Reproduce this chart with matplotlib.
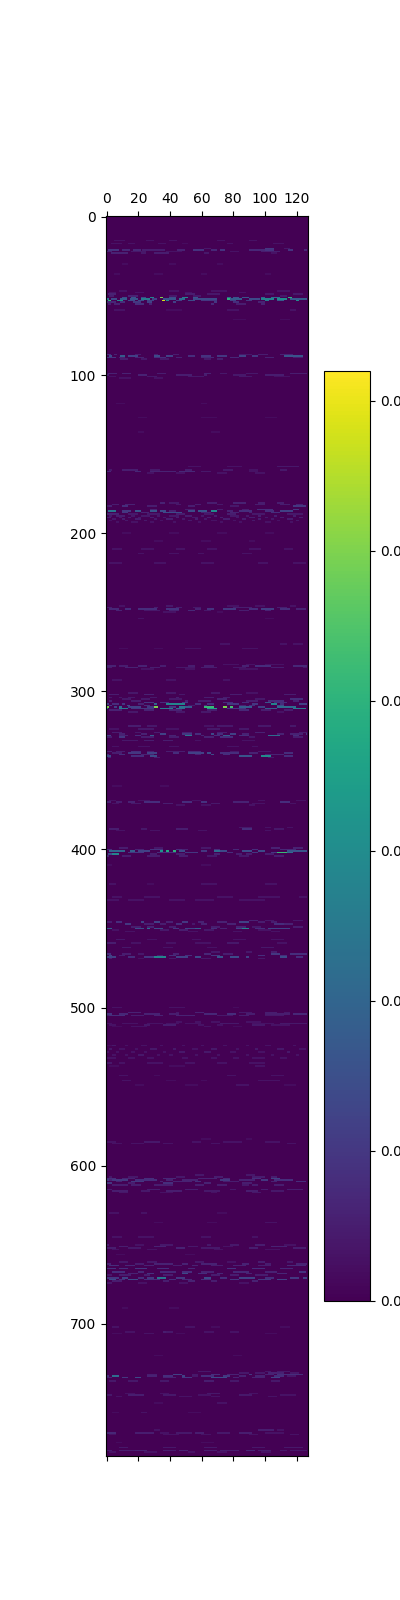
import numpy as np
import matplotlib
matplotlib.use("Agg")
import matplotlib.pyplot as plt

N_ROWS = 784
N_COLS = 128
VALUE_UNIT = 0.001
VMAX = 62
CBAR_TICKS = [0.0, 0.01, 0.02, 0.03, 0.04, 0.05, 0.06]

# Each entry: row -> runs of (first column, last column, value in VALUE_UNIT), read by eye.
BAND_TOP = {
    15: [(5,12,3),(25,30,3),(40,45,3),(70,75,3),(90,95,3)],
    17: [(3,10,3),(14,18,3),(33,38,3),(48,52,2),(76,80,3),(105,112,3)],
    20: [(100,106,10),(62,66,4),(112,116,4)],
    21: [(1,8,9),(10,15,7),(17,22,7),(23,37,5),(45,50,6),(55,62,9),(66,70,7),(72,75,9),(90,100,7),(100,106,9),(115,118,9),(125,127,7)],
    22: [(0,4,6),(16,25,4),(38,48,3),(78,84,3),(98,110,5)],
    23: [(3,14,6),(22,25,4),(30,40,5),(62,65,4),(104,108,3)],
    30: [(10,14,2),(40,44,2),(70,74,2)],
    36: [(5,9,2),(30,36,2),(60,64,2),(100,104,2)],
    47: [(8,13,3),(40,46,3),(66,76,3),(108,116,3)],
    48: [(2,6,3),(18,24,3),(50,54,3),(84,88,3)],
    49: [(1,6,6),(50,56,5),(64,72,4),(100,106,4),(118,124,4)],
    50: [(2,5,5),(14,20,6),(40,45,4),(55,60,4),(110,114,4)],
    51: [(10,13,14),(16,19,16),(22,25,14),(28,30,28),(34,36,50),(40,44,14),(48,50,24),(50,52,30),(55,58,16),(76,79,20),(80,84,16),(86,90,16),(98,100,20),(104,110,22),(115,117,40)],
    52: [(0,2,24),(3,7,14),(9,13,18),(15,20,16),(22,28,26),(29,32,12),(36,44,16),(46,50,22),(55,70,14),(76,78,40),(78,86,18),(90,97,14),(98,106,28),(108,114,30),(116,127,18)],
    53: [(1,3,40),(7,11,30),(14,18,14),(20,24,14),(26,30,12),(35,37,58),(38,40,30),(44,48,12),(52,56,14),(60,70,10),(78,82,12),(88,92,10),(100,103,26),(108,112,18),(120,122,30)],
    54: [(0,6,7),(9,12,8),(17,22,10),(26,29,12),(42,44,12),(68,70,10),(80,84,8),(96,100,6)],
    55: [(1,3,5),(5,9,6),(18,24,8),(27,29,6),(66,68,7),(82,88,5),(98,100,6)],
    59: [(5,12,3),(38,48,2),(76,84,3),(116,120,3)],
    65: [(80,88,2),(110,116,2)],
    87: [(0,3,8),(5,7,6),(18,22,5),(30,33,5),(42,46,5),(84,92,4),(96,102,5),(110,118,6)],
    88: [(2,4,14),(9,12,18),(14,20,12),(30,34,14),(38,42,12),(52,56,8),(60,66,9),(70,76,10),(84,88,12),(92,96,10),(112,124,16)],
    89: [(0,6,10),(8,12,6),(18,24,6),(30,38,8),(44,48,6),(60,68,7),(78,84,7),(100,106,6),(118,124,5)],
    90: [(9,14,5),(22,26,4),(34,40,4),(62,66,4),(70,74,5)],
    99: [(1,7,6),(10,16,6),(32,38,5),(62,66,6),(72,76,4),(88,96,4),(116,127,5)],
    100: [(0,2,5),(20,26,6),(44,54,5),(62,64,5),(80,88,4),(100,112,5)],
    101: [(2,6,3),(26,32,4),(52,62,4),(84,92,4),(106,116,3)],
    102: [(8,16,3),(30,36,3)],
    118: [(6,12,2),(60,64,2)],
    127: [(20,26,2),(60,70,2),(100,108,2)],
    136: [(66,72,2),(20,24,2)],
    158: [(52,60,3),(76,86,3),(108,122,4)],
    160: [(2,4,4),(10,20,5),(28,34,4),(50,54,5),(74,80,4),(90,96,3),(110,114,4)],
    161: [(0,3,7),(18,22,7),(28,44,6),(46,56,7),(60,66,4),(90,96,3)],
    162: [(26,30,3),(44,50,3),(70,76,3),(94,100,3)],
}
BAND_MID_A = {
    181: [(34,37,6),(40,46,4),(64,70,5),(80,88,6),(96,100,5),(108,112,5)],
    182: [(4,8,5),(12,18,6),(44,47,4),(56,60,5),(70,74,4),(94,100,5),(110,116,5),(120,124,6)],
    183: [(0,2,4),(2,4,6),(10,14,8),(26,32,5),(52,56,5),(78,84,4),(118,126,10)],
    185: [(28,32,6),(50,56,5),(70,74,5),(86,90,5),(95,105,8),(118,122,10)],
    186: [(1,6,24),(10,16,10),(18,22,16),(28,32,16),(34,38,14),(40,44,6),(52,56,14),(58,64,16),(66,70,30),(76,80,6),(84,92,8),(100,106,8),(110,118,12)],
    187: [(10,14,10),(22,27,6),(36,48,14),(60,66,6),(78,84,6),(90,92,6),(104,110,8)],
    188: [(0,8,6),(14,20,4),(26,34,4),(44,50,5),(62,68,4),(76,82,5),(92,100,4),(114,124,4)],
    189: [(2,4,4),(6,12,5),(16,18,4),(22,28,4),(32,34,4),(40,46,4),(50,54,5),(60,62,4),(68,70,5),(78,84,4),(88,90,4),(96,98,5),(106,108,5),(118,120,5)],
    190: [(0,3,5),(8,10,4),(14,16,5),(20,22,4),(28,30,5),(36,38,4),(44,46,5),(54,58,4),(64,66,5),(72,74,5),(82,84,4),(90,94,5),(100,102,4),(110,112,5),(122,124,5)],
    191: [(4,6,4),(10,12,5),(18,22,5),(30,32,4),(38,42,5),(48,50,4),(56,58,5),(62,64,4),(74,78,5),(86,88,5),(96,98,5),(104,106,4),(114,118,5)],
    192: [(2,4,3),(12,14,4),(24,26,4),(34,36,3),(52,54,4),(66,70,3),(80,82,3),(92,94,4),(108,110,3),(120,122,4)],
    193: [(6,8,3),(16,20,3),(28,30,3),(42,44,3),(58,60,3),(72,74,3),(84,86,3),(100,104,3),(116,118,3)],
    200: [(10,16,2),(40,46,2),(70,76,2),(100,106,2)],
    205: [(30,36,2),(60,66,2),(90,94,2)],
    210: [(4,10,3),(22,30,3),(44,50,3),(64,70,3),(90,98,3),(112,118,3)],
    213: [(20,24,3),(40,46,3),(58,62,3),(86,92,3)],
    219: [(2,10,3),(30,38,3),(60,68,3),(96,102,3),(118,126,3)],
    246: [(8,12,3),(38,42,4),(76,84,3),(94,100,3),(116,120,3)],
    247: [(0,4,5),(30,33,5),(44,48,5),(55,60,4),(80,92,5),(108,114,5)],
    248: [(2,8,7),(12,16,8),(20,32,8),(38,46,9),(56,60,6),(64,68,9),(74,82,10),(90,96,8),(98,106,11),(110,116,8),(120,126,6)],
    249: [(6,10,6),(24,34,4),(40,46,6),(52,56,7),(62,66,4),(84,90,5),(100,104,6)],
    250: [(36,44,3),(70,74,2)],
    254: [(20,24,3),(100,106,2)],
    270: [(72,78,3),(110,114,3),(118,124,3)],
    273: [(8,14,2),(30,36,2),(50,60,3),(86,96,3)],
    283: [(74,84,3),(88,94,3),(100,112,3)],
    284: [(0,6,6),(8,14,5),(20,26,6),(34,38,5),(52,56,5),(62,68,5),(86,90,6),(94,104,8),(118,127,7)],
    285: [(0,4,5),(12,20,6),(28,34,5),(44,56,4),(60,70,5),(80,88,4),(104,112,5),(124,127,4)],
    286: [(22,30,3),(50,56,3),(84,96,3)],
    293: [(4,10,3),(38,44,3),(74,78,3)],
}
BAND_MID_B = {
    301: [(14,20,4),(38,44,4),(66,72,4),(88,96,3)],
    302: [(2,8,5),(24,30,6),(46,50,4),(78,86,5),(112,120,5)],
    304: [(2,4,4),(8,10,4),(14,18,4),(28,32,4),(44,46,5),(62,68,5),(74,78,5)],
    305: [(10,16,4),(22,28,4),(40,48,4),(70,76,6),(94,100,4),(116,124,8)],
    306: [(2,4,6),(16,22,5),(50,52,6),(58,66,5),(88,96,5),(102,112,8),(118,122,6)],
    307: [(24,30,10),(34,40,8),(48,52,10),(74,80,8),(86,90,8),(100,104,16),(106,114,8)],
    308: [(0,2,12),(4,8,8),(10,12,10),(20,24,6),(30,32,20),(38,50,28),(56,60,8),(64,68,8),(76,84,10),(92,96,10),(104,108,28),(110,112,8),(122,127,12)],
    309: [(2,4,10),(13,15,14),(24,28,8),(52,56,4),(62,64,8),(84,88,6),(90,94,8),(108,112,14)],
    310: [(0,2,50),(5,7,12),(8,10,22),(14,22,12),(26,30,10),(30,33,50),(40,44,10),(46,50,24),(50,54,18),(62,68,42),(74,76,50),(78,80,44),(84,92,18),(96,100,12),(108,120,22)],
    311: [(0,1,28),(8,14,26),(16,30,10),(34,42,26),(44,50,22),(64,70,36),(76,88,10),(100,108,18),(118,126,26)],
    312: [(2,10,6),(24,30,6),(40,48,6),(64,70,5),(84,90,7),(98,104,5),(112,118,5)],
    313: [(14,20,4),(44,50,4),(60,66,4),(108,112,3)],
    322: [(14,22,5),(26,32,4),(62,68,3),(70,80,4),(96,104,4),(116,120,4)],
    324: [(2,8,3),(20,30,4),(38,46,3),(64,72,4),(84,90,4)],
    326: [(4,10,5),(18,22,4),(30,34,5),(48,54,5),(70,76,5),(94,100,6),(122,127,5)],
    327: [(8,12,6),(22,26,6),(34,38,12),(48,54,10),(56,60,8),(66,68,14),(70,74,8),(78,82,12),(86,90,6),(108,112,6),(116,124,6),(126,127,10)],
    328: [(0,3,12),(8,14,6),(18,22,8),(28,30,18),(40,44,6),(50,54,24),(60,62,6),(68,72,8),(74,78,18),(84,90,8),(102,106,22),(106,110,22),(118,122,8)],
    329: [(0,4,5),(8,12,10),(22,30,5),(40,46,5),(62,68,6),(72,80,8),(90,94,4),(118,124,5)],
    331: [(10,20,4),(24,30,5),(36,42,5),(56,60,3),(86,94,3)],
    335: [(4,8,3),(20,28,3),(40,46,3),(76,84,3),(92,96,3)],
    338: [(0,4,6),(6,12,5),(16,22,8),(26,30,5),(38,50,5),(52,60,7),(78,84,4),(96,104,4)],
    339: [(4,10,5),(14,22,10),(26,32,12),(42,46,8),(52,62,12),(64,66,14),(72,84,8),(90,96,6),(112,118,8)],
    340: [(0,2,8),(8,12,8),(22,30,6),(56,60,6),(66,68,14),(74,78,8),(100,112,6)],
    341: [(0,3,14),(16,24,8),(28,32,14),(84,92,16),(98,104,30),(112,118,8)],
    342: [(1,3,6),(30,34,5),(102,106,4)],
    360: [(4,10,2),(34,40,2)],
    372: [(44,50,3),(60,66,3),(90,94,3)],
    369: [(2,6,3),(20,28,3),(54,60,3),(96,100,3),(120,126,3)],
    370: [(0,3,6),(6,10,5),(14,18,6),(24,34,8),(48,54,8),(60,64,9),(80,90,6),(110,116,8)],
    371: [(4,8,3),(16,22,4),(36,42,5),(66,72,4),(92,100,3),(116,120,3)],
    386: [(84,92,4),(100,104,3),(114,118,3)],
    387: [(2,8,5),(22,26,4),(44,52,5),(86,92,8),(106,112,4)],
    388: [(6,12,3),(28,34,3),(58,64,3),(100,104,3)],
    399: [(8,14,5),(30,36,4),(60,66,4),(104,110,6),(118,124,6)],
    400: [(0,4,8),(18,24,6),(28,36,9),(44,50,8),(48,52,6),(68,72,8),(80,84,7),(92,96,8),(110,120,7)],
    401: [(2,12,20),(15,18,18),(20,28,12),(34,36,32),(38,40,38),(42,44,40),(46,50,14),(60,64,10),(68,72,22),(72,76,14),(86,92,14),(96,100,14),(114,127,16)],
    402: [(14,24,10),(32,44,8),(50,58,10),(76,80,8),(92,96,10),(104,108,10),(108,114,42),(114,118,22)],
    403: [(1,4,14),(4,8,28),(28,32,5),(44,50,5),(68,72,6),(82,86,5),(88,92,5),(100,106,5)],
    404: [(0,2,6),(10,16,5),(26,34,5),(46,52,5),(64,70,4),(84,90,4),(106,112,5)],
}
BAND_LOW_A = {
    410: [(0,4,2),(60,66,2)],
    422: [(2,6,3),(26,30,2),(60,70,3),(100,108,3)],
    430: [(4,10,3),(24,34,3),(70,80,3),(96,110,3),(122,127,3)],
    432: [(0,8,3),(14,24,3),(40,50,3),(56,68,3),(84,100,3)],
    445: [(90,96,6),(100,106,4),(118,124,4)],
    446: [(0,4,5),(6,10,8),(22,24,12),(30,34,12),(38,42,6),(48,52,10),(58,62,6),(70,76,6),(84,90,12),(96,100,5),(104,108,5)],
    447: [(12,16,10),(24,30,5),(34,38,5),(44,48,8),(54,56,4),(60,64,6),(76,82,6),(106,112,8),(112,118,6)],
    449: [(16,22,5),(26,30,6),(40,44,5),(66,72,5),(82,88,6),(92,98,4),(118,124,5)],
    450: [(0,4,18),(18,24,14),(26,28,22),(30,36,14),(42,46,10),(50,56,12),(56,60,18),(66,70,8),(72,76,6),(82,86,12),(86,90,28),(94,100,8),(102,116,12)],
    451: [(4,8,3),(34,40,4),(46,52,5),(62,68,4),(96,104,3)],
    452: [(12,18,3),(52,58,3),(80,86,3),(104,110,3)],
    457: [(6,12,4),(26,32,3),(54,60,3),(80,88,3),(104,112,3)],
    459: [(0,6,5),(16,22,3),(38,44,3),(56,66,3),(76,84,4),(108,114,3)],
    462: [(10,16,4),(36,42,3),(64,70,3),(98,106,4)],
    465: [(66,72,4),(88,92,4),(104,108,5)],
    466: [(0,3,8),(10,16,5),(20,24,4),(42,46,6),(62,66,7),(74,80,5),(104,110,10),(116,124,8),(124,127,8)],
    467: [(2,4,12),(8,12,5),(32,36,5),(40,44,8),(50,54,8),(66,72,10),(96,100,8),(110,114,8)],
    468: [(0,6,12),(14,18,8),(24,30,10),(30,38,28),(44,52,12),(56,60,14),(70,74,16),(78,84,14),(88,90,12),(110,114,14),(120,124,8)],
    469: [(2,4,5),(20,24,3),(40,44,4),(60,66,4),(96,100,4)],
    500: [(4,10,3),(40,50,3),(80,84,2)],
    503: [(14,22,6),(44,46,4),(56,62,6),(84,92,4),(100,108,5),(112,116,4)],
    504: [(0,4,9),(8,14,7),(24,34,6),(40,46,5),(62,70,7),(76,82,8),(88,94,5),(100,116,5),(118,127,7)],
    505: [(0,2,5),(2,12,8),(16,24,5),(30,36,6),(44,56,6),(70,80,4),(84,90,5),(100,112,4)],
    509: [(44,48,3),(56,60,3),(66,72,3),(88,98,3)],
    510: [(0,4,3),(10,20,3),(26,36,3),(38,46,3),(50,60,3),(72,84,4),(92,106,3),(110,127,4)],
    511: [(2,6,3),(24,28,4),(36,44,5),(58,62,3),(70,74,3),(92,100,4),(104,116,3)],
    512: [(4,10,2),(16,26,3),(62,66,3),(80,86,2)],
    524: [(0,4,2),(4,6,4),(12,14,3),(22,26,3),(34,36,3),(48,50,3),(60,62,3),(74,76,3),(88,90,3),(100,104,3),(118,120,3)],
    526: [(2,4,4),(8,12,3),(18,20,3),(28,32,4),(42,44,4),(54,58,3),(66,70,4),(82,84,3),(94,96,4),(108,112,4),(122,126,3)],
    528: [(0,2,3),(6,8,3),(16,18,3),(24,26,3),(36,38,3),(46,50,4),(62,66,4),(78,82,3),(96,100,3),(114,116,4)],
    530: [(4,6,3),(12,14,3),(20,24,4),(32,34,3),(40,42,3),(56,58,3),(70,72,3),(88,90,3),(104,106,3),(120,122,3)],
    532: [(0,6,3),(14,18,3),(26,30,3),(48,52,3),(66,70,3),(80,84,3),(92,100,3),(110,114,3)],
    535: [(0,4,4),(8,12,3),(26,36,3),(50,56,3),(70,76,3),(90,100,3)],
    537: [(2,8,2),(40,50,2),(94,100,3)],
    543: [(8,14,3),(30,34,2),(76,82,3),(104,112,3)],
    546: [(10,16,3),(38,44,2),(60,64,2),(96,110,3)],
    549: [(18,24,2),(50,58,2),(82,90,3),(112,120,2)],
}
BAND_LOW_B = {
    583: [(60,66,2),(88,92,2)],
    585: [(0,6,3),(24,34,4),(54,60,3),(74,86,3),(100,110,3)],
    586: [(4,10,3),(16,24,3),(36,42,3),(66,72,3),(114,120,3)],
    606: [(56,62,4),(88,94,4)],
    607: [(2,4,4),(14,20,4),(44,50,4),(68,74,5),(92,100,5),(104,108,5)],
    608: [(0,6,8),(10,18,6),(24,30,8),(36,44,7),(58,70,6),(74,78,7),(92,98,8),(104,110,12)],
    609: [(0,2,10),(2,4,6),(4,14,10),(18,32,8),(38,42,6),(48,58,6),(72,78,10),(84,94,6),(98,102,10),(106,118,8)],
    610: [(6,10,6),(16,24,10),(34,36,6),(42,54,6),(56,60,8),(74,84,5),(104,108,6),(120,126,8)],
    611: [(0,4,10),(14,18,5),(36,42,8),(62,66,6),(86,92,5)],
    612: [(4,14,5),(16,22,5),(30,42,5),(56,62,5),(70,76,5),(86,90,4),(92,96,5),(106,112,5)],
    615: [(0,4,5),(26,34,5),(50,58,5),(78,82,4),(98,102,5),(114,124,5)],
    616: [(4,14,5),(22,28,4),(38,48,5),(62,72,4),(88,96,5),(104,112,4)],
    617: [(8,14,4),(34,42,3),(66,70,3),(92,98,4)],
    630: [(2,8,3),(22,26,3),(70,76,2)],
    636: [(30,36,2),(64,70,2),(100,108,3)],
    645: [(4,10,3),(20,30,3),(60,66,3),(92,96,3)],
    650: [(0,2,5),(18,24,3),(34,42,4),(64,66,4),(78,84,4),(94,100,5),(112,120,3)],
    651: [(8,14,5),(30,38,6),(52,58,4),(74,80,3),(104,114,6)],
    652: [(0,6,5),(14,22,4),(44,50,6),(60,72,4),(90,96,5),(118,126,5)],
    653: [(4,8,3),(26,32,3),(68,74,3),(100,110,3)],
    656: [(6,12,2),(50,56,2)],
    661: [(8,14,4),(26,32,4),(56,62,4),(76,82,3),(96,100,5),(114,118,4)],
    662: [(0,3,6),(18,24,5),(30,42,6),(48,52,6),(60,70,6),(86,90,6),(100,104,5),(120,127,6)],
    663: [(2,8,8),(12,18,7),(24,30,6),(42,48,5),(54,58,6),(66,74,5),(80,88,6),(96,104,5),(114,126,7)],
    665: [(0,6,9),(8,14,8),(18,26,10),(32,40,8),(52,56,7),(76,82,9),(92,100,8),(110,118,7)],
    667: [(4,12,8),(20,24,7),(34,44,7),(48,54,8),(60,68,6),(80,90,7),(100,108,6),(122,126,9)],
    668: [(14,20,6),(26,30,9),(48,52,14),(58,64,8),(70,74,7),(88,92,6),(108,114,7)],
    669: [(0,4,4),(8,16,5),(24,28,5),(36,42,5),(66,72,5),(78,84,5),(94,102,5)],
    671: [(0,8,10),(10,14,12),(20,24,8),(26,30,10),(32,38,24),(44,50,10),(62,66,14),(72,76,8),(84,94,12),(100,106,8),(116,122,10),(124,127,12)],
    672: [(2,6,14),(8,12,8),(14,20,14),(24,34,8),(40,44,8),(48,54,7),(60,66,8),(78,84,10),(96,104,10),(108,114,12)],
    673: [(4,10,5),(36,40,5),(52,56,6),(66,70,5),(92,96,6)],
    674: [(0,4,4),(20,26,3),(46,52,3),(84,90,3)],
    690: [(40,46,2),(10,14,2)],
    702: [(4,8,3),(50,56,3),(66,72,2),(110,116,2)],
    705: [(12,18,3),(36,40,5),(38,42,4),(62,68,3),(78,84,3)],
    706: [(4,10,2),(24,30,3),(44,50,2),(100,108,2)],
    720: [(30,36,2),(80,86,2)],
    730: [(58,66,4),(100,104,4),(108,116,4)],
    731: [(84,90,4),(94,100,4),(102,112,6),(116,122,4)],
    732: [(26,32,5),(42,48,12),(54,58,4),(66,72,8),(76,84,6),(90,92,10),(100,106,6),(108,124,8)],
    733: [(0,2,8),(4,8,22),(26,32,6),(36,42,8),(48,50,12),(54,58,4),(60,68,8),(74,78,10),(84,88,6),(94,100,6),(106,112,8),(114,120,4)],
    734: [(0,4,6),(10,14,10),(18,22,14),(36,44,6),(48,54,10),(66,76,14),(80,84,6),(92,100,6),(104,110,12)],
    736: [(2,6,4),(14,20,4),(34,40,4),(62,68,5),(78,84,4),(104,110,4)],
    744: [(12,18,3),(34,40,3),(64,72,4),(90,96,3)],
    745: [(0,4,4),(14,24,5),(36,44,4),(58,66,3),(84,92,4),(110,120,3)],
    746: [(6,10,3),(46,54,3),(66,72,3),(102,108,3)],
    750: [(30,36,2),(70,76,3)],
    756: [(4,8,2),(22,26,3),(52,60,2)],
    767: [(30,34,3),(96,106,5),(108,112,3)],
    769: [(0,6,7),(18,30,5),(34,40,3),(44,54,4),(56,62,5),(70,78,4),(84,92,5),(100,112,3)],
    770: [(2,6,3),(36,46,3),(60,66,3),(90,96,3),(116,122,3)],
    775: [(6,10,2),(60,68,2)],
    778: [(8,14,4),(36,44,4),(62,70,4),(92,100,4),(112,124,4)],
    780: [(0,4,5),(8,18,5),(18,26,6),(36,44,5),(46,52,6),(62,70,5),(72,84,5),(88,94,7),(96,104,5),(110,114,4),(116,127,4)],
    781: [(2,6,3),(24,32,3),(52,56,3),(70,76,3),(98,104,3)],
}

grid = np.zeros((N_ROWS, N_COLS))
for band in (BAND_TOP, BAND_MID_A, BAND_MID_B, BAND_LOW_A, BAND_LOW_B):
    for row, runs in band.items():
        for first, last, value in runs:
            grid[row, first:last] = value * VALUE_UNIT

W, H = 400, 1600
fig = plt.figure(figsize=(W / 100, H / 100), dpi=100)
ax = fig.add_axes([106.0 / W, 1 - 1456.0 / H, 202.4 / W, 1240.0 / H])
im = ax.matshow(grid, cmap="viridis", vmin=0, vmax=VMAX * VALUE_UNIT, aspect="equal")
ax.set_xticks(np.arange(0, 121, 20))
ax.set_yticks(np.arange(0, 701, 100))

cax = fig.add_axes([324.0 / W, 1 - 1301.0 / H, 46.0 / W, 930.0 / H])
cbar = fig.colorbar(im, cax=cax)
cbar.set_ticks(CBAR_TICKS)
cbar.ax.set_yticklabels([f"{t:.2f}" for t in CBAR_TICKS])

fig.savefig("out.png", dpi=100)
